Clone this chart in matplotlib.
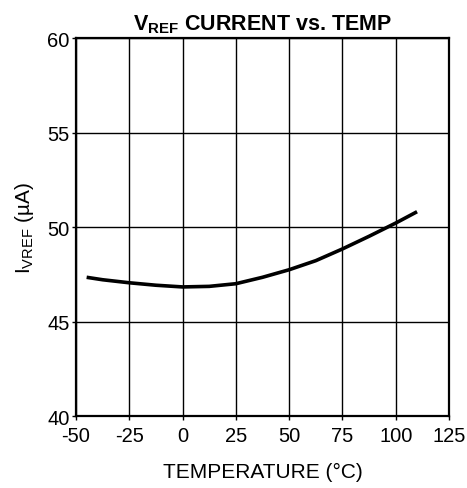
import matplotlib
matplotlib.use("Agg")
import matplotlib.pyplot as plt

# VREF current vs temperature
temp_c = [-45, -37.5, -25, -12.5, 0, 12.5, 25, 37.5, 50, 62.5, 75, 87.5, 100, 110]
i_vref_ua = [47.34, 47.21, 47.05, 46.92, 46.83, 46.86, 47.00, 47.34, 47.74,
             48.22, 48.84, 49.51, 50.21, 50.81]

x_ticks = [-50, -25, 0, 25, 50, 75, 100, 125]
y_ticks = [40, 45, 50, 55, 60]

plt.rcParams["font.family"] = ["Liberation Sans", "DejaVu Sans"]
plt.rcParams["mathtext.fontset"] = "custom"
plt.rcParams["mathtext.rm"] = "Liberation Sans"
plt.rcParams["mathtext.bf"] = "Liberation Sans:bold"
plt.rcParams["axes.unicode_minus"] = False

fig = plt.figure(figsize=(4.67, 4.89), dpi=100)
ax = fig.add_axes([0.1627, 0.1472, 0.7988, 0.773])

ax.plot(temp_c, i_vref_ua, color="black", linewidth=2.6, solid_joinstyle="round",
        solid_capstyle="butt", zorder=3)

ax.set_xlim(-50, 125)
ax.set_ylim(40, 60)
ax.set_xticks(x_ticks)
ax.set_yticks(y_ticks)
ax.tick_params(direction="out", length=3, width=1, labelsize=14.5)
ax.tick_params(axis="x", pad=4.5)
ax.tick_params(axis="y", pad=1.5)
ax.grid(True, color="black", linewidth=1.0)
for s in ax.spines.values():
    s.set_linewidth(1.6)

ax.set_xlabel("TEMPERATURE (°C)", fontsize=15, labelpad=12)
ax.set_ylabel(r"$\mathregular{I_{VREF}}$ (µA)", fontsize=15, labelpad=8)
ax.set_title(r"$\mathbf{V_{REF}}$ CURRENT vs. TEMP", fontsize=15.5,
             fontweight="bold", pad=6)

fig.savefig("out.png", dpi=100)
